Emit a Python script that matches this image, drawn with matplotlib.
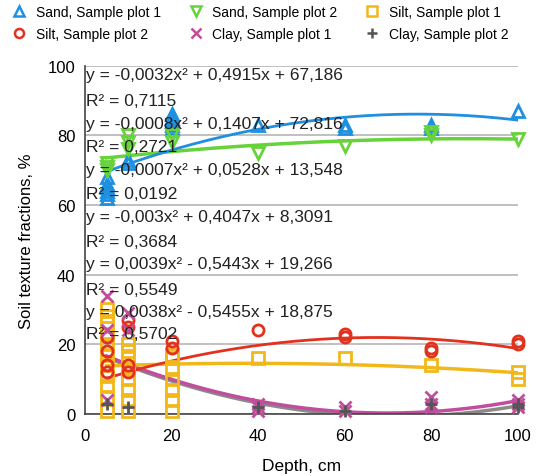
import numpy as np
import matplotlib
matplotlib.use("Agg")
import matplotlib.pyplot as plt
from matplotlib.lines import Line2D

plt.rcParams['font.family'] = ['Liberation Sans', 'DejaVu Sans']

# ---- data ----
sand1_x = [5, 5, 5, 5, 5, 5, 10, 10, 20, 20, 20, 20, 20, 40, 60, 60, 80, 80, 100]
sand1_y = [62, 63, 64, 65, 66, 68, 72, 73, 82, 83, 84, 85, 86, 83, 82, 83, 82, 83, 87]

sand2_x = [5, 5, 5, 10, 10, 10, 20, 20, 40, 60, 80, 80, 100]
sand2_y = [70, 71, 72, 76, 78, 80, 78, 80, 75, 77, 80, 81, 79]

silt1_x = [5] * 11 + [10] * 8 + [20] * 7 + [40, 60, 80, 100, 100]
silt1_y = [1, 5, 8, 11, 14, 17, 20, 23, 26, 28, 30,
           1, 4, 7, 10, 13, 16, 18, 20,
           1, 4, 7, 10, 13, 16, 17,
           16, 16, 14, 10, 12]

silt2_x = [5, 5, 5, 5, 10, 10, 10, 10, 20, 20, 40, 60, 60, 80, 80, 100, 100]
silt2_y = [12, 14, 18, 22, 12, 14, 25, 27, 19, 21, 24, 22, 23, 18, 19, 20, 21]

clay1_x = [5, 5, 5, 10, 10, 40, 40, 40, 60, 60, 80, 80, 80, 100, 100, 100]
clay1_y = [4, 24, 34, 24, 29, 1, 2, 3, 1, 2, 2, 3, 5, 2, 3, 4]

clay2_x = [5, 10, 40, 60, 80, 100, 100]
clay2_y = [3, 2, 2, 1, 3, 2, 3]

# trendline coefficients (a, b, c) as shown on chart
coef_sand1 = [-0.0032, 0.4915, 67.186]
coef_sand2 = [-0.0008, 0.1407, 72.816]
coef_silt1 = [-0.0007, 0.0528, 13.548]
coef_silt2 = [-0.003, 0.4047, 8.3091]
coef_clay1 = [0.0039, -0.5443, 19.266]
coef_clay2 = [0.0038, -0.5455, 18.875]

eq_labels = [
    "y = -0,0032x² + 0,4915x + 67,186", "R² = 0,7115",
    "y = -0,0008x² + 0,1407x + 72,816", "R² = 0,2721",
    "y = -0,0007x² + 0,0528x + 13,548", "R² = 0,0192",
    "y = -0,003x² + 0,4047x + 8,3091", "R² = 0,3684",
    "y = 0,0039x² - 0,5443x + 19,266", "R² = 0,5549",
    "y = 0,0038x² - 0,5455x + 18,875", "R² = 0,5702",
]
eq_y = [97.4, 89.9, 83.3, 76.7, 70.1, 63.2, 56.6, 49.4, 43.1, 35.6, 29.3, 23.0]

x_ticks = [0, 20, 40, 60, 80, 100]
y_ticks = [0, 20, 40, 60, 80, 100]

C_BLUE = '#1f8fe0'
C_GREEN = '#66d33a'
C_YEL = '#f2b81a'
C_RED = '#e2311d'
C_MAG = '#c04e9c'
C_GREY = '#555555'

fig = plt.figure(figsize=(5.57, 4.77), dpi=100)
ax = fig.add_axes([0.1526, 0.130, 0.777, 0.7305])

ax.set_xlim(0, 100)
ax.set_ylim(0, 100)
ax.set_yticks(y_ticks)
ax.set_xticks(x_ticks)
ax.yaxis.grid(True, color='#b5b5b5', lw=1.2)
ax.set_axisbelow(True)
for s in ['top', 'right']:
    ax.spines[s].set_visible(False)
for s in ['left', 'bottom']:
    ax.spines[s].set_color('#444444')
    ax.spines[s].set_linewidth(1.2)
ax.tick_params(axis='x', length=0, labelsize=12, pad=10)
ax.tick_params(axis='y', length=0, labelsize=12, pad=7)
ax.set_xlabel("Depth, cm", fontsize=12.5, labelpad=11)
ax.set_ylabel("Soil texture fractions, %", fontsize=12, labelpad=10)

xt = np.linspace(5, 100, 200)
ms = 8
mew = 2
# trendlines
ax.plot(xt, np.polyval(coef_clay2, xt), color='#8a8a8a', lw=2.5, zorder=2)
ax.plot(xt, np.polyval(coef_clay1, xt), color=C_MAG, lw=2.5, zorder=2)
ax.plot(xt, np.polyval(coef_silt1, xt), color=C_YEL, lw=2.5, zorder=2)
ax.plot(xt, np.polyval(coef_silt2, xt), color=C_RED, lw=2, zorder=2)
ax.plot(xt, np.polyval(coef_sand2, xt), color=C_GREEN, lw=2.5, zorder=2)
ax.plot(xt, np.polyval(coef_sand1, xt), color=C_BLUE, lw=2, zorder=2)

ax.plot(sand1_x, sand1_y, ls='none', marker='^', ms=ms, mfc='none', mec=C_BLUE, mew=mew, zorder=3, clip_on=False)
ax.plot(sand2_x, sand2_y, ls='none', marker='v', ms=ms, mfc='none', mec=C_GREEN, mew=mew, zorder=3, clip_on=False)
ax.plot(silt1_x, silt1_y, ls='none', marker='s', ms=ms, mfc='none', mec=C_YEL, mew=mew, zorder=3, clip_on=False)
ax.plot(silt2_x, silt2_y, ls='none', marker='o', ms=ms, mfc='none', mec=C_RED, mew=mew, zorder=3, clip_on=False)
ax.plot(clay1_x, clay1_y, ls='none', marker='x', ms=ms, mec=C_MAG, mew=mew, zorder=3, clip_on=False)
ax.plot(clay2_x, clay2_y, ls='none', marker='+', ms=ms, mec=C_GREY, mew=mew, zorder=3, clip_on=False)

for t, yv in zip(eq_labels, eq_y):
    ax.text(0.2, yv, t, fontsize=12.5, va='center', ha='left', color='#222222', zorder=4)

lms = 6.5
lmew = 1.8
handles = [
    Line2D([], [], ls='none', marker='^', ms=lms, mfc='none', mec=C_BLUE, mew=lmew),
    Line2D([], [], ls='none', marker='o', ms=lms, mfc='none', mec=C_RED, mew=lmew),
    Line2D([], [], ls='none', marker='v', ms=lms, mfc='none', mec=C_GREEN, mew=lmew),
    Line2D([], [], ls='none', marker='x', ms=lms, mec=C_MAG, mew=lmew),
    Line2D([], [], ls='none', marker='s', ms=lms, mfc='none', mec=C_YEL, mew=lmew),
    Line2D([], [], ls='none', marker='+', ms=lms, mec=C_GREY, mew=lmew),
]
labels = ["Sand, Sample plot 1", "Silt, Sample plot 2", "Sand, Sample plot 2",
          "Clay, Sample plot 1", "Silt, Sample plot 1", "Clay, Sample plot 2"]
fig.legend(handles, labels, ncol=3, loc='upper left', bbox_to_anchor=(-0.003, 1.014),
           frameon=False, fontsize=10, handlelength=1.2, handletextpad=0.6,
           columnspacing=1.9, labelspacing=0.6)

fig.savefig("out.png", dpi=100)
